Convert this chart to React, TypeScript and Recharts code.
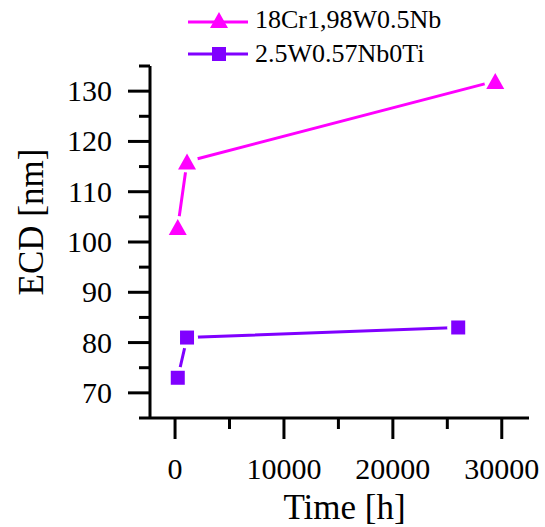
import React from "react";
import { LineChart, Line, XAxis, YAxis, Legend, Label } from "recharts";

const FONT = "Liberation Serif";

const seriesNames = ["18Cr1,98W0.5Nb", "2.5W0.57Nb0Ti"];
const seriesColors = ["#ff00ff", "#8000ff"];

const timesA = [250, 1100, 29400];
const ecdA = [103, 116, 132];

const timesB = [250, 1100, 26000];
const ecdB = [73, 81, 83];

const xTicks = [0, 5000, 10000, 15000, 20000, 25000, 30000];
const yTicks = [65, 70, 75, 80, 85, 90, 95, 100, 105, 110, 115, 120, 125, 130, 135];

const dataA = timesA.map((t, i) => ({ t, ecd: ecdA[i] }));
const dataB = timesB.map((t, i) => ({ t, ecd: ecdB[i] }));

const XTick = (props: any) => {
  const { x, y, payload } = props;
  const major = payload.value % 10000 === 0;
  return (
    <g>
      <line x1={x} x2={x} y1={y} y2={y + (major ? 21 : 11)} stroke="#000" strokeWidth={3} />
      {major && (
        <text x={x} y={y + 61} textAnchor="middle" fontSize={30} style={{ fontFamily: FONT }} fill="#000">
          {payload.value}
        </text>
      )}
    </g>
  );
};

const YTick = (props: any) => {
  const { x, y, payload } = props;
  const major = payload.value % 10 === 0;
  return (
    <g>
      <line x1={x} x2={x - (major ? 22 : 11)} y1={y} y2={y} stroke="#000" strokeWidth={3} />
      {major && (
        <text x={x - 38} y={y + 10} textAnchor="end" fontSize={30} style={{ fontFamily: FONT }} fill="#000">
          {payload.value}
        </text>
      )}
    </g>
  );
};

const triPoints = (cx: number, cy: number) =>
  `${cx},${cy - 8} ${cx + 9},${cy + 8} ${cx - 9},${cy + 8}`;

const TriDot = (props: any) => {
  const { cx, cy } = props;
  if (cx == null || cy == null) return null;
  return (
    <g>
      <circle cx={cx} cy={cy} r={11} fill="#fff" />
      <polygon points={triPoints(cx, cy)} fill={seriesColors[0]} />
    </g>
  );
};

const SquareDot = (props: any) => {
  const { cx, cy } = props;
  if (cx == null || cy == null) return null;
  return (
    <g>
      <circle cx={cx} cy={cy} r={11} fill="#fff" />
      <rect x={cx - 7} y={cy - 7} width={14} height={14} fill={seriesColors[1]} />
    </g>
  );
};

const LegendBox = () => (
  <svg width={300} height={72}>
    <line x1={8} x2={68} y1={22} y2={22} stroke={seriesColors[0]} strokeWidth={3} />
    <polygon points={triPoints(39, 20)} fill={seriesColors[0]} />
    <text x={75} y={28} fontSize={26} style={{ fontFamily: FONT }} fill="#000">
      {seriesNames[0]}
    </text>
    <line x1={8} x2={68} y1={54} y2={54} stroke={seriesColors[1]} strokeWidth={3} />
    <rect x={32} y={47} width={14} height={14} fill={seriesColors[1]} />
    <text x={75} y={62} fontSize={26} style={{ fontFamily: FONT }} fill="#000">
      {seriesNames[1]}
    </text>
  </svg>
);

const YTitle = (props: any) => {
  const vb = props.viewBox || { y: 66, height: 352 };
  const cy = vb.y + vb.height / 2 - 20;
  return (
    <text
      x={43}
      y={cy}
      transform={`rotate(-90, 43, ${cy})`}
      textAnchor="middle"
      fontSize={35}
      style={{ fontFamily: FONT }}
      fill="#000"
    >
      ECD [nm]
    </text>
  );
};

const XTitle = (props: any) => {
  const vb = props.viewBox || { x: 150, width: 379 };
  return (
    <text
      x={vb.x + vb.width / 2 + 5}
      y={519}
      textAnchor="middle"
      fontSize={35}
      style={{ fontFamily: FONT }}
      fill="#000"
    >
      Time [h]
    </text>
  );
};

export default function App() {
  return (
    <div
      style={{
        position: "absolute",
        left: 0,
        top: 0,
        width: 545,
        height: 527,
        background: "#fff",
        fontFamily: FONT,
      }}
    >
      <LineChart width={545} height={527} margin={{ top: 66, right: 16, bottom: 0, left: 0 }}>
        <XAxis
          type="number"
          dataKey="t"
          domain={[-2300, 32500]}
          ticks={xTicks}
          interval={0}
          height={109}
          tickSize={0}
          tickMargin={0}
          tickLine={false}
          tick={<XTick />}
          axisLine={{ stroke: "#000", strokeWidth: 3 }}
        >
          <Label content={<XTitle />} />
        </XAxis>
        <YAxis
          type="number"
          domain={[65, 135]}
          ticks={yTicks}
          interval={0}
          width={150}
          tickSize={0}
          tickMargin={0}
          tickLine={false}
          tick={<YTick />}
          axisLine={{ stroke: "#000", strokeWidth: 3 }}
        >
          <Label content={<YTitle />} />
        </YAxis>
        <Legend
          layout="vertical"
          verticalAlign="middle"
          align="center"
          wrapperStyle={{ top: 0, left: 180, width: 300, height: 72 }}
          content={<LegendBox />}
        />
        <Line
          data={dataA}
          dataKey="ecd"
          name={seriesNames[0]}
          stroke={seriesColors[0]}
          strokeWidth={3}
          dot={<TriDot />}
          activeDot={false}
          isAnimationActive={false}
        />
        <Line
          data={dataB}
          dataKey="ecd"
          name={seriesNames[1]}
          stroke={seriesColors[1]}
          strokeWidth={3}
          dot={<SquareDot />}
          activeDot={false}
          isAnimationActive={false}
        />
      </LineChart>
    </div>
  );
}
